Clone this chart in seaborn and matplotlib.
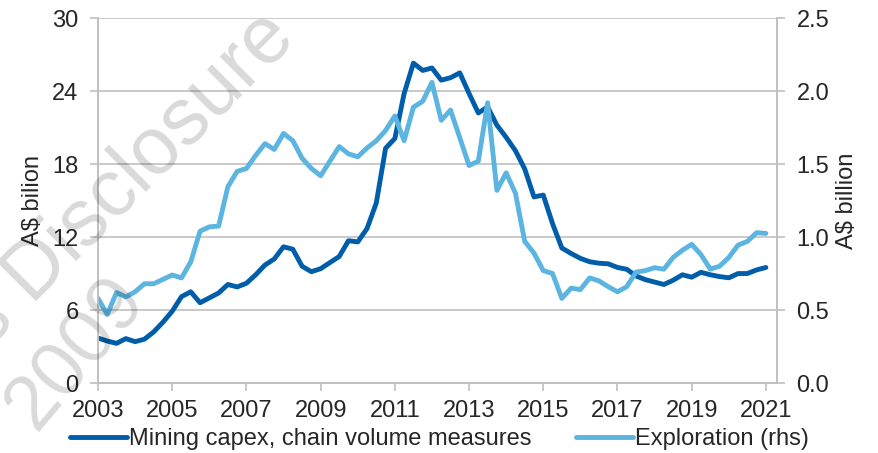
import numpy as np
import pandas as pd
import matplotlib
matplotlib.use('Agg')
import matplotlib.pyplot as plt
import seaborn as sns

# quarterly data, 2003 Q1 to 2021 Q1
quarters = pd.period_range('2003Q1', '2021Q1', freq='Q')

# mining capex, chain volume measures (A$ billion, lhs)
capex = [3.7, 3.45, 3.26, 3.65, 3.4, 3.6, 4.2, 5.0, 5.9, 7.1,
         7.5, 6.6, 7.0, 7.4, 8.1, 7.9, 8.2, 8.9, 9.7, 10.2,
         11.2, 11.0, 9.6, 9.15, 9.4, 9.9, 10.4, 11.7, 11.6, 12.7,
         14.8, 19.3, 20.1, 23.8, 26.3, 25.7, 25.9, 24.9, 25.1, 25.5,
         23.8, 22.2, 22.7, 21.2, 20.2, 19.1, 17.6, 15.3, 15.45, 13.1,
         11.1, 10.65, 10.25, 9.97, 9.85, 9.8, 9.5, 9.35, 8.8, 8.5,
         8.3, 8.1, 8.45, 8.9, 8.7, 9.1, 8.9, 8.75, 8.65, 9.0,
         9.0, 9.3, 9.5]

# exploration (A$ billion, rhs)
exploration = [0.58, 0.47, 0.62, 0.59, 0.625, 0.68, 0.68, 0.71, 0.74, 0.72,
               0.83, 1.04, 1.07, 1.075, 1.345, 1.45, 1.47, 1.56, 1.64, 1.60,
               1.71, 1.66, 1.54, 1.47, 1.42, 1.52, 1.62, 1.57, 1.55, 1.61,
               1.66, 1.73, 1.83, 1.66, 1.89, 1.93, 2.06, 1.80, 1.87, 1.68,
               1.49, 1.52, 1.92, 1.32, 1.44, 1.30, 0.97, 0.89, 0.77, 0.75,
               0.58, 0.65, 0.64, 0.72, 0.70, 0.66, 0.625, 0.66, 0.76, 0.77,
               0.79, 0.78, 0.86, 0.91, 0.95, 0.88, 0.78, 0.80, 0.86, 0.945,
               0.97, 1.03, 1.025]

year_ticks = list(range(2003, 2022, 2))
left_ticks = [0, 6, 12, 18, 24, 30]
right_ticks = [0.0, 0.5, 1.0, 1.5, 2.0, 2.5]

dark_blue = '#005DAA'
light_blue = '#5BB5E0'
grid_grey = '#C0C0C0'
text_col = '#262626'

df = pd.DataFrame({
    'Year': quarters.year + (quarters.quarter - 1) / 4,
    'Capex': capex,
    'Exploration': exploration,
})

sns.set_style('white')
plt.rcParams['font.family'] = ['Liberation Sans', 'DejaVu Sans']
plt.rcParams['font.size'] = 17

fig = plt.figure(figsize=(8.79, 4.53), dpi=100)
ax = fig.add_axes([0.1115, 0.1545, 0.7725, 0.8055])
ax2 = ax.twinx()

sns.lineplot(data=df, x='Year', y='Capex', ax=ax, color=dark_blue, lw=3.5,
             label='Mining capex, chain volume measures', legend=False)
sns.lineplot(data=df, x='Year', y='Exploration', ax=ax2, color=light_blue, lw=3.5,
             label='Exploration (rhs)', legend=False)

ax.set_xlim(2003, 2021.3)
ax.set_ylim(0, 30)
ax2.set_ylim(0, 2.5)
ax.set_xticks(year_ticks)
ax.set_yticks(left_ticks)
ax2.set_yticks(right_ticks)
ax2.set_yticklabels([f'{v:.1f}' for v in right_ticks])

ax.yaxis.grid(True, color=grid_grey, lw=1.2)
ax.set_axisbelow(True)

for a in (ax, ax2):
    a.spines['top'].set_visible(False)
    for side in ('left', 'right', 'bottom'):
        a.spines[side].set_color(grid_grey)
        a.spines[side].set_linewidth(1.2)
    a.tick_params(colors=grid_grey, labelcolor=text_col, length=6, width=1.2,
                  labelsize=17)

ax.tick_params(axis='y', left=True, pad=8)
ax.tick_params(axis='x', bottom=True, pad=6)
ax2.tick_params(axis='y', right=True, pad=8)

ax.set_xlabel('')
ax.set_ylabel('A$ bilion', color=text_col, fontsize=17, labelpad=6)
ax2.set_ylabel('A$ billion', color=text_col, fontsize=17, labelpad=5)

h1, l1 = ax.get_legend_handles_labels()
h2, l2 = ax2.get_legend_handles_labels()
fig.legend(h1 + h2, l1 + l2, loc='lower center', bbox_to_anchor=(0.5, -0.04),
           ncol=2, frameon=False, fontsize=17, handlelength=2.4,
           handletextpad=0.1, columnspacing=1.9, labelcolor=text_col)

# watermark
fig.text(0.322, 0.945, 'Documents Disclosure', rotation=45, fontsize=58,
         color='black', alpha=0.15, ha='right', va='center',
         rotation_mode='anchor', zorder=10)
fig.text(0.085, 0.22, '2009', rotation=50, fontsize=56,
         color='black', alpha=0.15, ha='center', va='center',
         rotation_mode='anchor', zorder=10)

fig.savefig('out.png', dpi=100)
